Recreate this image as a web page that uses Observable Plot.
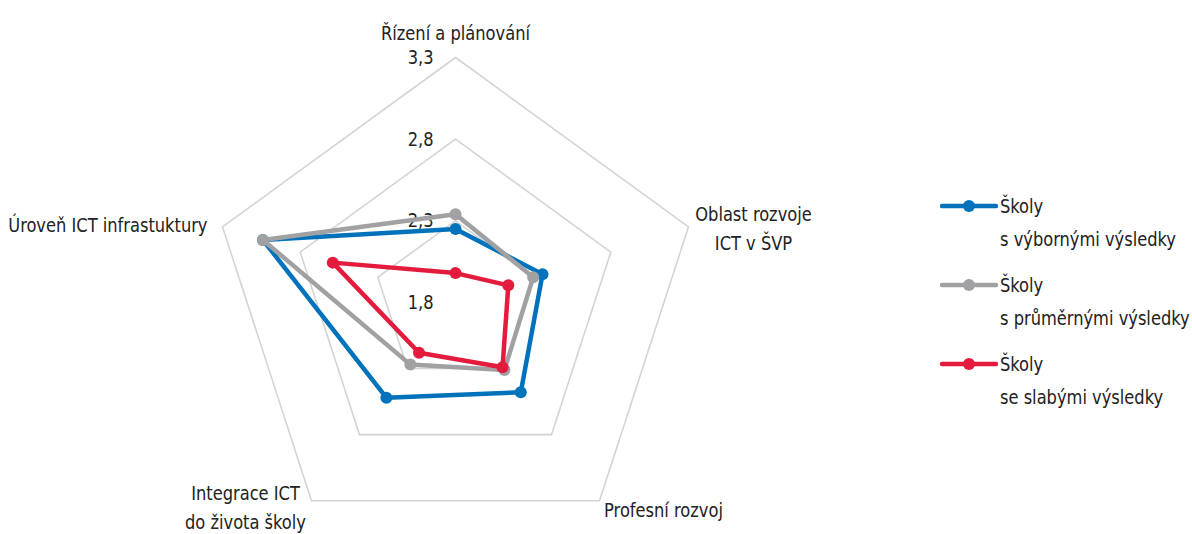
<!DOCTYPE html>
<html>
<head>
<meta charset="utf-8">
<script src="https://cdn.jsdelivr.net/npm/d3@7"></script>
<script src="https://cdn.jsdelivr.net/npm/@observablehq/plot@0.6"></script>
<style>
  html, body { margin: 0; padding: 0; background: #fff; }
  #wrap { position: relative; width: 1192px; height: 534px; font-family: "DejaVu Sans", sans-serif; font-stretch: condensed; overflow: hidden; }
  #legend { position: absolute; left: 940px; top: 191px; color: #222; font-size: 20px; }
  .item { display: flex; align-items: flex-start; margin-bottom: 14px; white-space: nowrap; }
  .item svg { flex: none; margin-top: 8px; }
  .item .txt { line-height: 33px; margin-left: 2px; margin-top: -1px; transform-origin: 0 0; }
</style>
</head>
<body>
<div id="wrap"><div id="chart"></div><div id="legend"></div></div>
<script>
const categories = ["Řízení a plánování", "Oblast rozvoje\nICT v ŠVP", "Profesní rozvoj", "Integrace ICT\ndo života školy", "Úroveň ICT infrastuktury"];
const seriesNames = ["Školy\ns výbornými výsledky", "Školy\ns průměrnými výsledky", "Školy\nse slabými výsledky"];
const excellent = [2.25, 2.36, 2.48, 2.52, 3.04];
const average   = [2.34, 2.30, 2.31, 2.27, 3.04];
const weak      = [1.98, 2.14, 2.29, 2.18, 2.59];
const ticks = [1.8, 2.3, 2.8, 3.3];
const tickLabels = ["1,8", "2,3", "2,8", "3,3"];
const colors = ["#0072bc", "#a1a1a4", "#e41b3c"];

const rMin = 1.8, rMax = 3.3;
const n = categories.length;
function pt(i, v) {
  const a = (2 * Math.PI * i) / n;
  const r = (v - rMin) / (rMax - rMin);
  return { x: r * Math.sin(a), y: r * Math.cos(a) };
}

const series = [excellent, average, weak];
const lineData = [];
series.forEach((vals, s) => {
  vals.forEach((v, i) => lineData.push({ s, ...pt(i, v) }));
  lineData.push({ s, ...pt(0, vals[0]) });
});

const ringData = [];
ticks.slice(1).forEach(t => {
  for (let i = 0; i <= n; i++) ringData.push({ t, ...pt(i % n, t) });
});

const tickData = ticks.map((t, k) => ({ label: tickLabels[k], ...pt(0, t) }));

// label layout (offsets in px)
const labelLayout = [
  { anchor: "middle", dx: 0, dy: -27 },
  { anchor: "middle", dx: 65, dy: -1 },
  { anchor: "middle", dx: 64, dy: 7 },
  { anchor: "middle", dx: -66, dy: 5 },
  { anchor: "end", dx: -15, dy: -4 }
];
const catData = categories.map((c, i) => ({ c, i, ...pt(i, rMax) }));

const R = 245, cx = 455, cy = 302, W = 1192, H = 534;
const FF = '"DejaVu Sans", sans-serif';

const marks = [
  Plot.line(ringData, { x: "x", y: "y", z: "t", stroke: "#d4d4d4", strokeWidth: 1.6 }),
  Plot.text(tickData, { x: "x", y: "y", text: "label", textAnchor: "end", dx: -22, fontSize: 20, fill: "#222" })
];
series.forEach((_, s) => {
  const d = lineData.filter(e => e.s === s);
  marks.push(Plot.line(d, { x: "x", y: "y", stroke: colors[s], strokeWidth: 4.5, strokeLinejoin: "round" }));
  marks.push(Plot.dot(d.slice(0, n), { x: "x", y: "y", r: 6, fill: colors[s], stroke: "none" }));
});
labelLayout.forEach((L, i) => {
  marks.push(Plot.text(catData.filter(e => e.i === i), { x: "x", y: "y", text: "c", textAnchor: L.anchor, dx: L.dx, dy: L.dy, fontSize: 20, lineHeight: 1.45, fill: "#222" }));
});

const chart = Plot.plot({
  width: W, height: H,
  marginTop: 0, marginBottom: 0, marginLeft: 0, marginRight: 0,
  x: { domain: [-cx / R, (W - cx) / R], axis: null },
  y: { domain: [-(H - cy) / R, cy / R], axis: null },
  style: { fontFamily: FF, background: "#fff", fontStretch: "condensed" },
  marks
});
document.getElementById("chart").appendChild(chart);

const legend = document.getElementById("legend");
const legendTexts = [];
seriesNames.forEach((name, s) => {
  const item = document.createElement("div");
  item.className = "item";
  item.innerHTML = `<svg width="58" height="14"><line x1="2" y1="7" x2="56" y2="7" stroke="${colors[s]}" stroke-width="4.5" stroke-linecap="round"/><circle cx="29" cy="7" r="6" fill="${colors[s]}"/></svg>`;
  const t = document.createElement("div");
  t.className = "txt";
  t.innerHTML = name.split("\n").join("<br>");
  item.appendChild(t);
  legend.appendChild(item);
  legendTexts.push(t);
});

// Condense text horizontally to mimic the narrow typeface of the original
const topLabel = Array.from(chart.querySelectorAll("text")).find(t => t.textContent === categories[0]);
const k = topLabel ? Math.min(1, 149 / topLabel.getComputedTextLength()) : 1;
if (k < 1) {
  chart.querySelectorAll("text").forEach(t => {
    const spans = t.querySelectorAll("tspan");
    const els = spans.length ? Array.from(spans) : [t];
    els.forEach(e => {
      const len = e.getComputedTextLength();
      e.setAttribute("textLength", (len * k).toFixed(2));
      e.setAttribute("lengthAdjust", "spacingAndGlyphs");
    });
  });
  legendTexts.forEach(t => { t.style.transform = `scaleX(${k})`; });
}
</script>
</body>
</html>
